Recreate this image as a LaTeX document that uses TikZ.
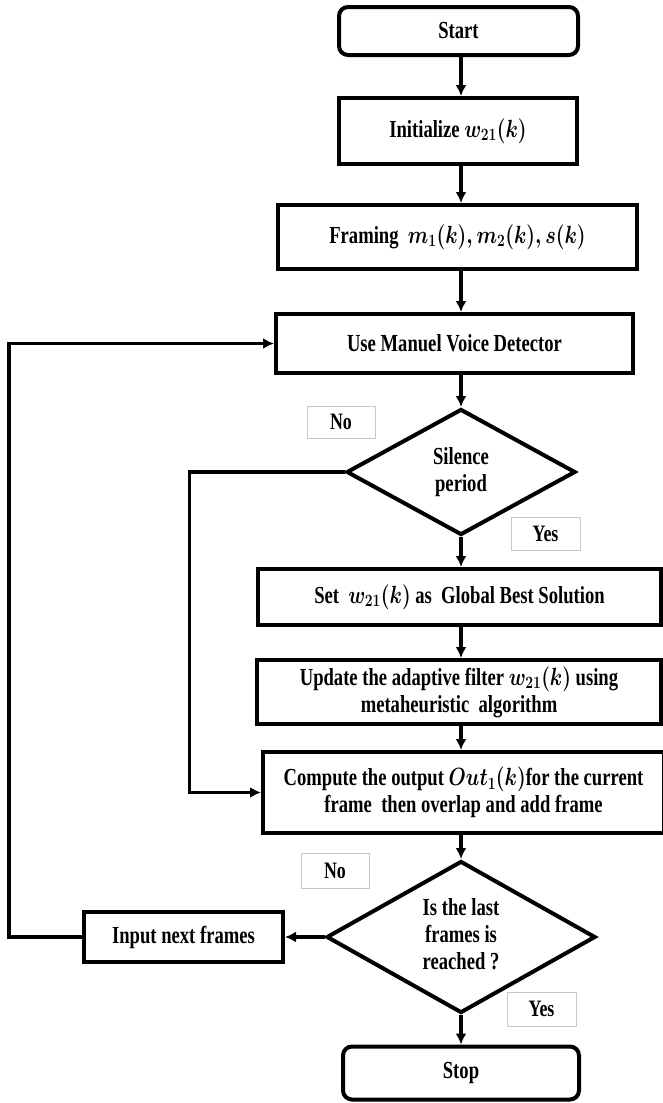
\documentclass[tikz,border=0pt]{standalone}
\usepackage{graphicx}
\usepackage{fontspec}
\setmainfont{Liberation Serif}[FakeStretch=0.76]
\usetikzlibrary{arrows,shapes.geometric}
\usepgflibrary{arrows.meta}
\newcommand{\mth}[1]{\scalebox{0.8}[1]{$#1$}}

\begin{document}
\begin{tikzpicture}[x=1pt,y=-1pt,
        blk/.style={draw,line width=4pt,align=center,inner sep=1pt,font=\bfseries\fontsize{24.5}{27}\selectfont\boldmath},
        term/.style={blk,rounded corners=9pt},
        dec/.style={blk,diamond,inner sep=0pt},
        tag/.style={draw=black!22,line width=0.9pt,inner sep=0pt,font=\bfseries\fontsize{23.5}{26}\selectfont},
        arr/.style={line width=3.8pt,-{Latex[length=11pt,width=11pt]}}]
        \useasboundingbox (0,0) rectangle (663,1103);
        \coordinate (col) at (461,0);
        %main column
        \node[term,minimum width=239,minimum height=48] (start) at (458.5,31) {Start};
        \node[blk,minimum width=238,minimum height=66] (init) at (458,131) {Initialize \mth{w_{21}(k)}};
        \node[blk,minimum width=359,minimum height=64] (frame) at (457.5,237) {Framing~~\mth{m_1(k), m_2(k), s(k)}};
        \node[blk,minimum width=357,minimum height=59] (vad) at (454.5,343.5) {Use Manuel Voice Detector};
        \node[dec,aspect=1.8,minimum width=229,minimum height=126] (sil) at (461,472) {Silence\\ period};
        \node[blk,minimum width=403,minimum height=56] (setw) at (459.5,597) {Set~~\mth{w_{21}(k)} as~~Global Best Solution};
        \node[blk,minimum width=404,minimum height=64] (upd) at (459,692) {Update the adaptive filter \mth{w_{21}(k)} using\\ metaheuristic~~algorithm};
        \node[blk,minimum width=401,minimum height=81] (comp) at (463.5,792.5) {Compute the output \mth{Out_1(k)}for the current\\ frame~~then overlap and add frame};
        \node[dec,aspect=1.77,minimum width=269,minimum height=152] (last) at (461,937)
            {\raisebox{-12pt}{\begin{tabular}{@{}c@{}}Is the last\\ frames is\\ reached ?\end{tabular}}};
        \node[blk,minimum width=199,minimum height=50] (nxt) at (183.5,937) {Input next frames};
        \node[term,minimum width=236,minimum height=53] (stop) at (461,1073) {Stop};
        %labels
        \node[tag,minimum width=68,minimum height=32] (noa) at (341,422) {No};
        \node[tag,minimum width=69,minimum height=33] (yesa) at (545.5,533.5) {Yes};
        \node[tag,minimum width=68,minimum height=35] (nob) at (335,870.5) {No};
        \node[tag,minimum width=69,minimum height=34] (yesb) at (541.5,1009) {Yes};
        %arrows
        \draw [arr] (col |- start.south) -- (col |- init.north);
        \draw [arr] (col |- init.south) -- (col |- frame.north);
        \draw [arr] (col |- frame.south) -- (col |- vad.north);
        \draw [arr] (col |- vad.south) -- (sil.north);
        \draw [arr] (sil.south) -- (col |- setw.north);
        \draw [arr] (col |- setw.south) -- (col |- upd.north);
        \draw [arr] (col |- upd.south) -- (col |- comp.north);
        \draw [arr] (col |- comp.south) -- (last.north);
        \draw [arr] (last.south) -- (col |- stop.north);
        \draw [arr] (last.west) -- (nxt.east);
        %loops
        \draw [arr] (sil.west) -- ++(-155,0) |- (comp.west);
        \draw [arr] (nxt.west) -- ++(-73,0) |- (vad.west);
    \end{tikzpicture}
\end{document}
